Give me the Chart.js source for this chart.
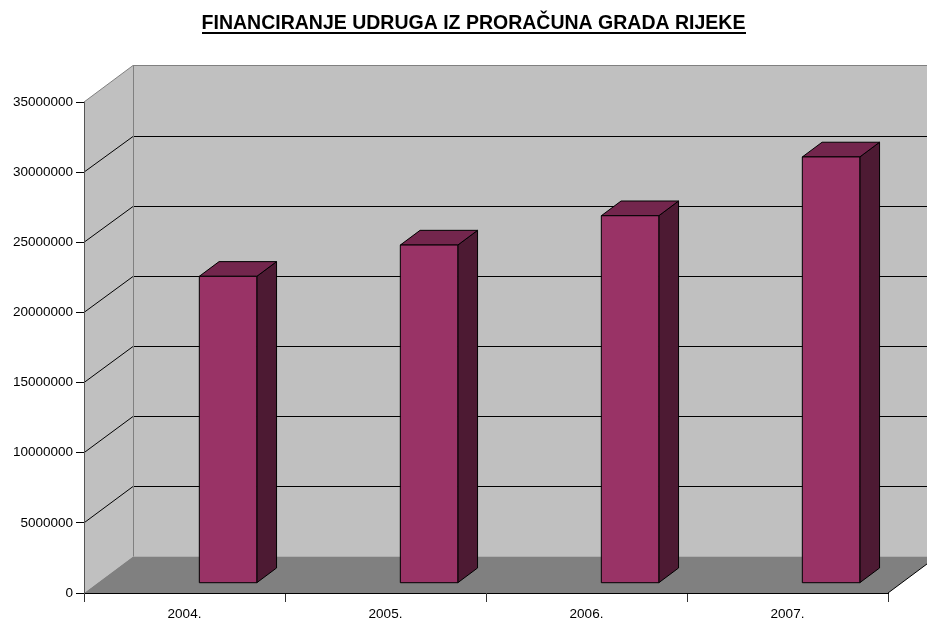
<!DOCTYPE html>
<html>
<head>
<meta charset="utf-8">
<title>Financiranje udruga</title>
<script src="https://cdn.jsdelivr.net/npm/chart.js@4"></script>
<style>
    html, body { margin: 0; padding: 0; background: #ffffff; }
    canvas { display: block; }
</style>
</head>
<body>
<canvas id="udrugeChart" width="927" height="618"></canvas>
<script>
// Data
const years = ['2004.', '2005.', '2006.', '2007.'];
const amounts = [21840000, 24070000, 26160000, 30350000];
const yMin = 0;
const yMax = 35000000;
const yStep = 5000000;

// 3D look (Excel style oblique projection)
const DEPTH_X = 49;
const DEPTH_Y = -36.5;
const BAR_FRONT = 0.282;   // depth fraction of bar front face
const BAR_BACK = 0.685;    // depth fraction of bar back face
const BAR_WIDTH = 0.286;   // fraction of category width
const BAR_SHIFT = 0.005;

const FONT = "Arial, 'Liberation Sans', sans-serif";

function proj(x, y, t) {
    return [x + t * DEPTH_X, y + t * DEPTH_Y];
}

function poly(ctx, pts, fill, stroke) {
    ctx.beginPath();
    ctx.moveTo(pts[0][0], pts[0][1]);
    for (let i = 1; i < pts.length; i++) ctx.lineTo(pts[i][0], pts[i][1]);
    ctx.closePath();
    if (fill) { ctx.fillStyle = fill; ctx.fill(); }
    if (stroke) { ctx.strokeStyle = stroke; ctx.lineWidth = 1; ctx.stroke(); }
}

const walls3d = {
    id: 'walls3d',
    afterLayout(chart) {
        // title is centred over the whole picture incl. the depth, not the plot
        const t = chart.titleBlock;
        if (t) {
            t.left = 20;
            t.right = chart.width;
        }
    },
    beforeDraw(chart) {
        const { ctx, chartArea: a, scales: { x, y } } = chart;
        const y0 = y.getPixelForValue(yMin);
        const yTop = y.getPixelForValue(yMax);
        const W = chart.width;
        ctx.save();

        // back wall
        poly(ctx, [proj(a.left, yTop, 1), [W + 60, yTop + DEPTH_Y], [W + 60, y0 + DEPTH_Y], proj(a.left, y0, 1)], '#C0C0C0');
        // left wall
        poly(ctx, [[a.left, yTop], proj(a.left, yTop, 1), proj(a.left, y0, 1), [a.left, y0]], '#C0C0C0');
        // floor
        poly(ctx, [[a.left, y0], [a.right, y0], proj(a.right, y0, 1), proj(a.left, y0, 1)], '#808080');

        // gridlines on walls
        ctx.strokeStyle = '#000000';
        ctx.lineWidth = 1;
        for (let v = yMin + yStep; v < yMax; v += yStep) {
            const py = Math.round(y.getPixelForValue(v) + DEPTH_Y) + 0.5;
            const bx = proj(a.left, 0, 1)[0];
            ctx.beginPath();
            ctx.moveTo(a.left, y.getPixelForValue(v));
            ctx.lineTo(bx, py);
            ctx.lineTo(W, py);
            ctx.stroke();
        }

        // wall edges
        ctx.strokeStyle = '#808080';
        ctx.beginPath();
        const tl = proj(a.left, yTop, 1);
        ctx.moveTo(a.left, yTop);
        ctx.lineTo(tl[0], tl[1]);
        ctx.lineTo(W, tl[1]);
        ctx.moveTo(Math.round(tl[0]) + 0.5, tl[1]);
        ctx.lineTo(Math.round(tl[0]) + 0.5, y0 + DEPTH_Y);
        ctx.stroke();

        // floor right edge
        ctx.strokeStyle = '#000000';
        ctx.beginPath();
        const fr = proj(a.right, y0, 1);
        ctx.moveTo(a.right, y0);
        ctx.lineTo(fr[0], fr[1]);
        ctx.stroke();
        ctx.restore();
    },
    afterDatasetsDraw(chart) {
        const { ctx, chartArea: a, scales: { x, y } } = chart;
        const catW = (a.right - a.left) / years.length;
        ctx.save();
        ctx.lineJoin = 'miter';
        amounts.forEach((v, i) => {
            const cx = x.getPixelForValue(i);
            const xl = cx + BAR_SHIFT * catW;
            const xr = xl + BAR_WIDTH * catW;
            const yb = y.getPixelForValue(0);
            const yt = y.getPixelForValue(v);
            const f = BAR_FRONT, b = BAR_BACK;
            // right side
            poly(ctx, [proj(xr, yt, f), proj(xr, yt, b), proj(xr, yb, b), proj(xr, yb, f)], '#4D1A33', '#000000');
            // top
            poly(ctx, [proj(xl, yt, f), proj(xr, yt, f), proj(xr, yt, b), proj(xl, yt, b)], '#73264D', '#000000');
            // front
            poly(ctx, [proj(xl, yt, f), proj(xr, yt, f), proj(xr, yb, f), proj(xl, yb, f)], '#993366', '#000000');
        });
        ctx.restore();
    },
    afterDraw(chart) {
        // underline the title
        const t = chart.titleBlock;
        if (!t) return;
        const { ctx } = chart;
        ctx.save();
        ctx.font = 'bold 19.5px ' + FONT;
        const w = ctx.measureText(chart.options.plugins.title.text).width;
        const cx = (t.left + t.right) / 2;
        const cy = t.top + 12 + 11.7;
        ctx.fillStyle = '#000000';
        ctx.fillRect(Math.round(cx - w / 2), Math.round(cy + 8.5), Math.round(w), 2);
        ctx.restore();
    }
};

document.addEventListener('DOMContentLoaded', function() {
    const ctx = document.getElementById('udrugeChart').getContext('2d');

    new Chart(ctx, {
        type: 'bar',
        data: {
            labels: years,
            datasets: [{
                label: 'Financiranje udruga',
                data: amounts,
                backgroundColor: 'rgba(0,0,0,0)',
                borderWidth: 0
            }]
        },
        options: {
            responsive: false,
            animation: false,
            layout: {
                padding: { left: 0, right: 39, top: 0, bottom: 0 }
            },
            plugins: {
                legend: { display: false },
                tooltip: { enabled: false },
                title: {
                    display: true,
                    text: 'FINANCIRANJE UDRUGA IZ PRORAČUNA GRADA RIJEKE',
                    color: '#000000',
                    font: { family: FONT, size: 19.5, weight: 'bold' },
                    padding: { top: 12, bottom: 66.6 }
                }
            },
            scales: {
                x: {
                    offset: true,
                    afterFit: function(scale) { scale.height = 25; },
                    grid: {
                        offset: true,
                        drawOnChartArea: false,
                        drawTicks: true,
                        tickLength: 9,
                        color: '#333333'
                    },
                    border: { color: '#000000', width: 1 },
                    ticks: {
                        color: '#000000',
                        padding: 4,
                        maxRotation: 0,
                        font: { family: FONT, size: 13.5 }
                    }
                },
                y: {
                    min: yMin,
                    max: yMax,
                    afterFit: function(scale) { scale.width = 84; },
                    grid: {
                        drawOnChartArea: false,
                        drawTicks: true,
                        tickLength: 8,
                        color: '#000000'
                    },
                    border: { color: '#555555', width: 1 },
                    ticks: {
                        stepSize: yStep,
                        color: '#000000',
                        padding: 3,
                        font: { family: FONT, size: 13.5 },
                        callback: function(value) { return String(value); }
                    }
                }
            }
        },
        plugins: [walls3d]
    });
});
</script>
</body>
</html>
